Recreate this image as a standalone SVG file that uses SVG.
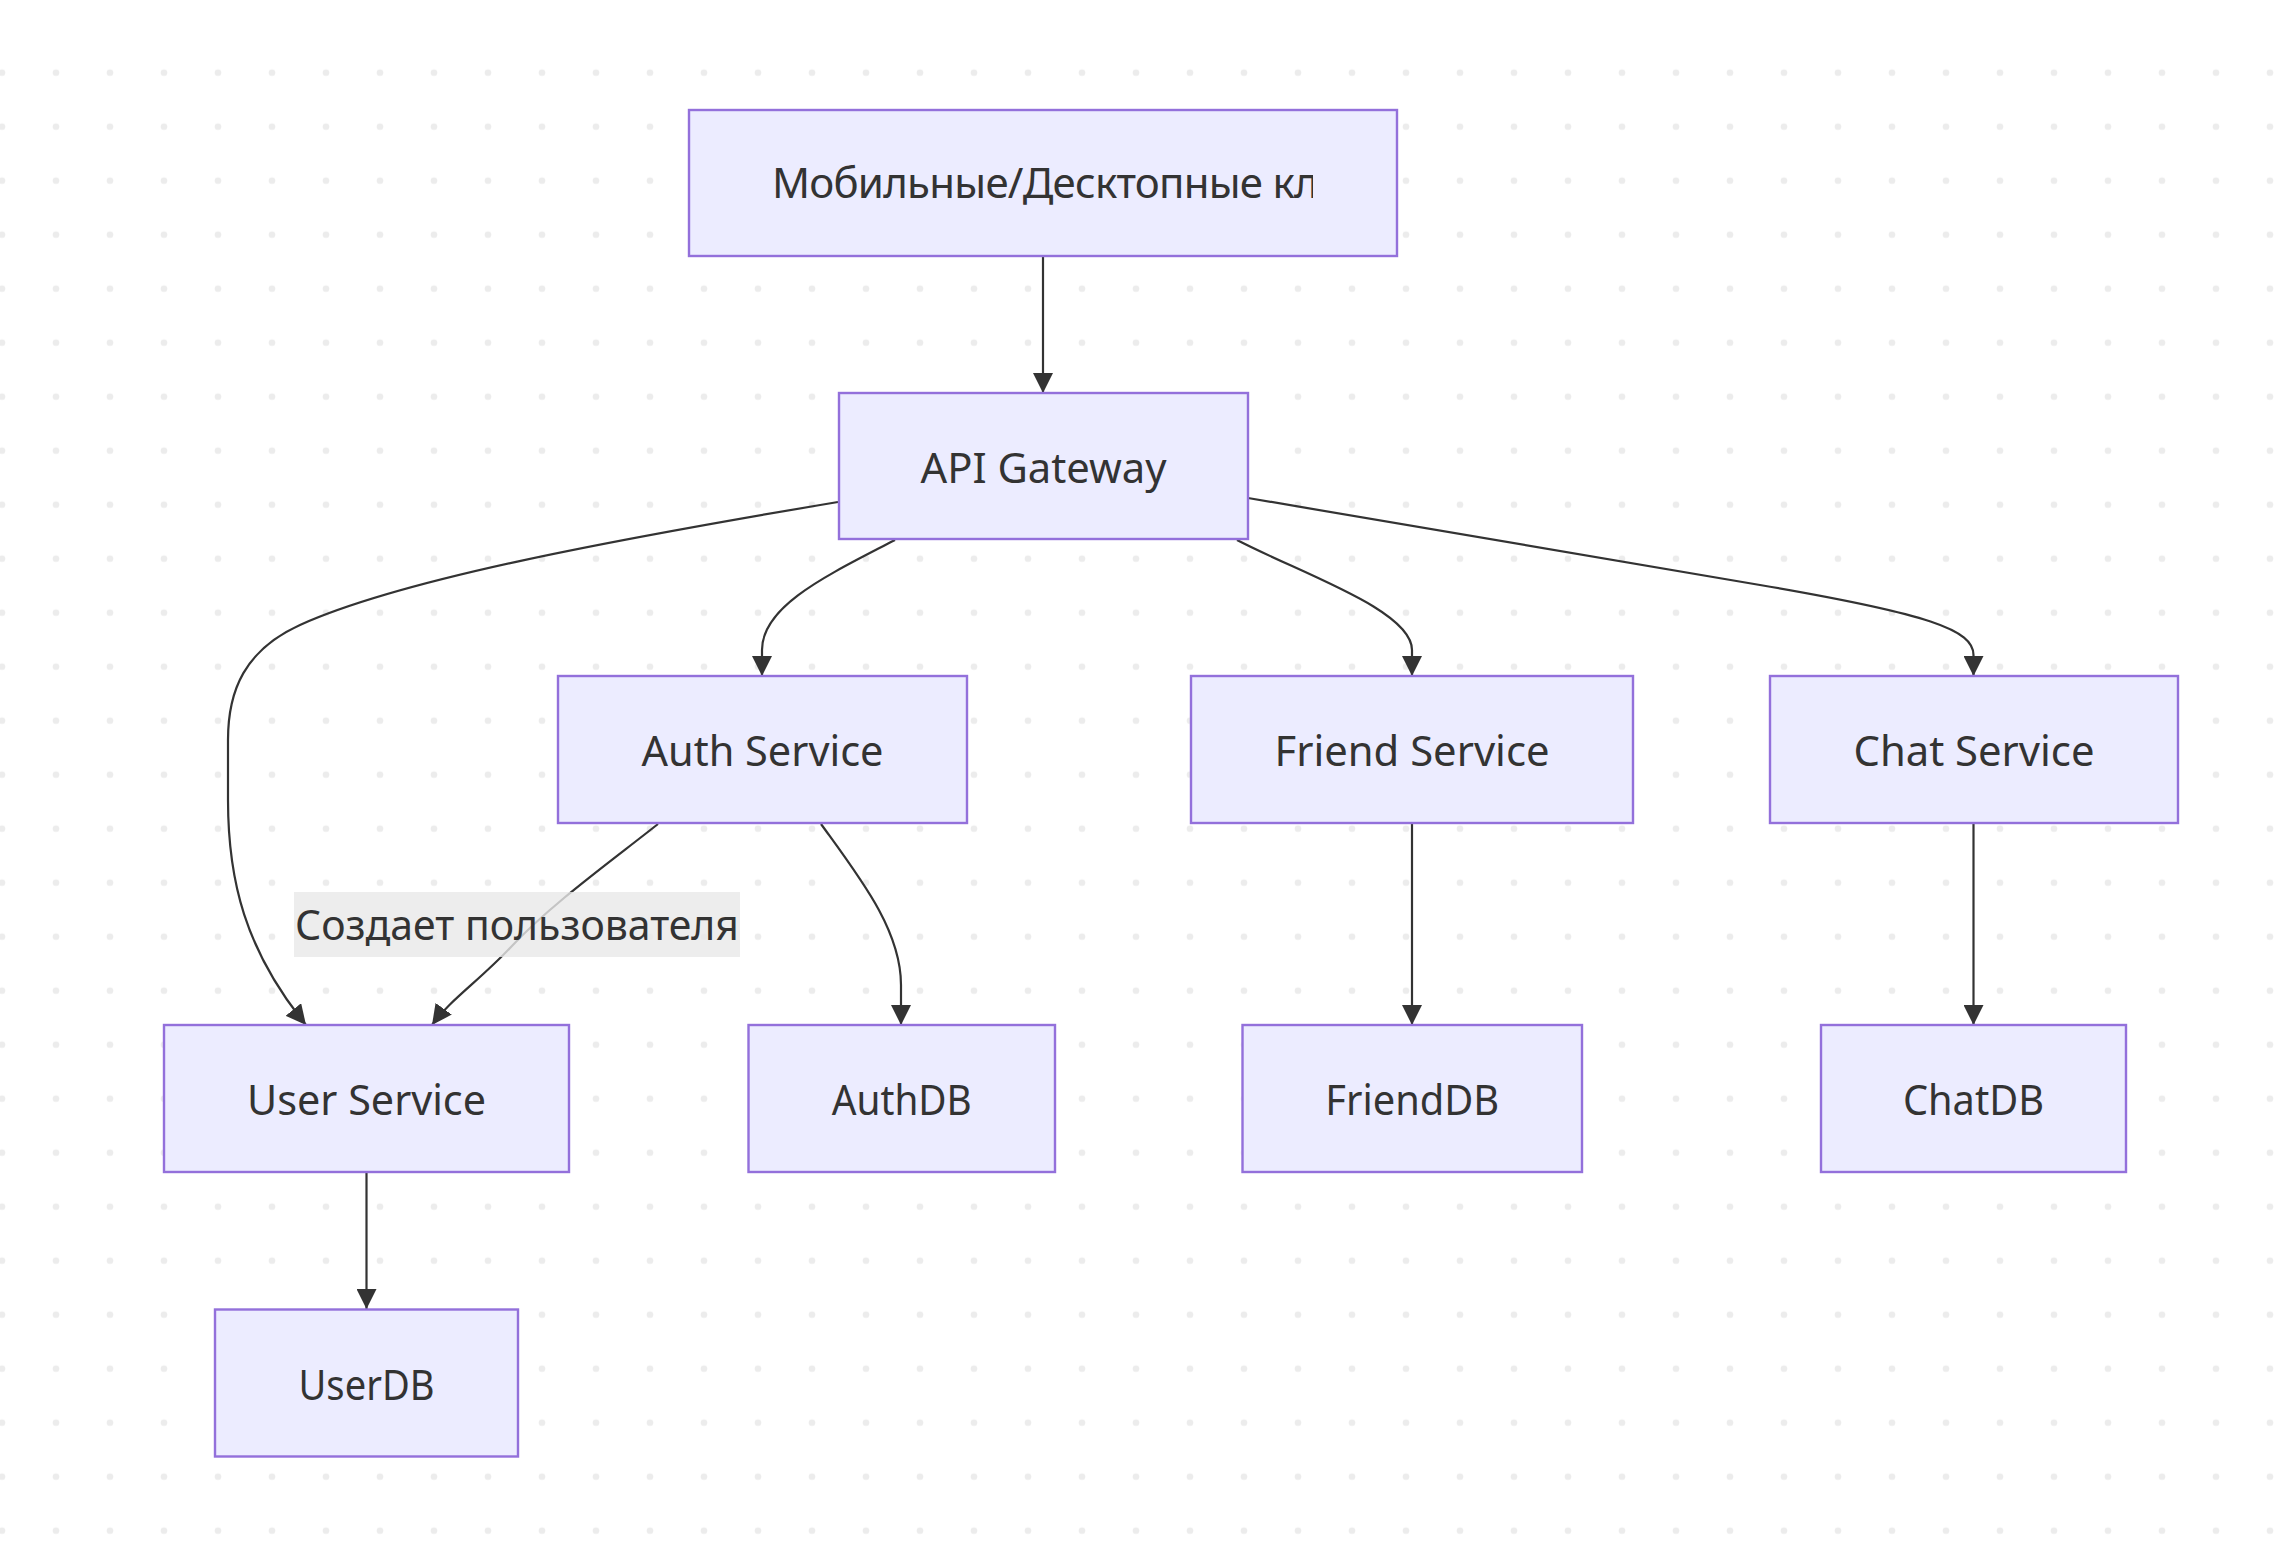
<svg xmlns="http://www.w3.org/2000/svg" width="2294" height="1566" viewBox="0 0 2294 1566">
<style>
.node rect{fill:#ECECFF;stroke:#9370DB;stroke-width:2.4}
.node text,.lbl text{font-family:"Noto Sans","DejaVu Sans",sans-serif;font-size:42px;fill:#333333;text-anchor:middle}
.edge{fill:none;stroke:#333333;stroke-width:2.2;marker-end:url(#arr)}
</style>
<defs>
<pattern id="dots" patternUnits="userSpaceOnUse" x="-25" y="45.7" width="54" height="54">
<circle cx="27" cy="27" r="3.3" fill="#ececec"/>
</pattern>
<marker id="arr" viewBox="0 0 10 10" refX="10" refY="5" markerUnits="userSpaceOnUse" markerWidth="20" markerHeight="20" orient="auto">
<path d="M0,0 L10,5 L0,10 z" fill="#333333"/>
</marker>
<clipPath id="clipTop"><rect x="689" y="110" width="624" height="146"/></clipPath>
</defs>
<rect x="0" y="0" width="2294" height="1566" fill="#ffffff"/>
<rect x="0" y="45.7" width="2294" height="1512" fill="url(#dots)"/>

<g id="connectors">
<path class="edge" d="M1043,256 L1043,393"/>
<path class="edge" d="M838,502 C600,542 400,580 300,625 C245,650 228,690 228,740 L228,800 C228,880 245,950 306,1025"/>
<path class="edge" d="M895,540 C830,574 762,605 762,650 L762,676"/>
<path class="edge" d="M1237,540 C1300,573 1412,610 1412,650 L1412,676"/>
<path class="edge" d="M1248,498 L1760,585 C1930,614 1973.5,630 1973.5,655 L1973.5,676"/>
<path class="edge" d="M658,824 C610,862 550,905 510,948 C480,980 450,1000 432,1025"/>
<path class="edge" d="M821,824 C860,878 901,930 901,985 L901,1025"/>
<path class="edge" d="M366.5,1172 L366.5,1309"/>
<path class="edge" d="M1412,823 L1412,1025"/>
<path class="edge" d="M1973.5,823 L1973.5,1025"/>
</g>

<g id="edge-label" class="lbl">
<rect x="294" y="892" width="446" height="65" fill="rgba(232,232,232,0.8)"/>
<text x="517" y="940" textLength="444" lengthAdjust="spacingAndGlyphs">Создает пользователя</text>
</g>

<g id="clients" class="node">
<rect x="689" y="110" width="708" height="146"/>
<text x="772" y="198" clip-path="url(#clipTop)" style="text-anchor:start;letter-spacing:-0.75px">Мобильные/Десктопные клиенты</text>
</g>
<g id="api" class="node">
<rect x="839" y="393" width="409" height="146"/>
<text x="1043.5" y="482.5" textLength="246" lengthAdjust="spacingAndGlyphs">API Gateway</text>
</g>
<g id="auth" class="node">
<rect x="558" y="676" width="409" height="147"/>
<text x="762.5" y="766" textLength="242" lengthAdjust="spacingAndGlyphs">Auth Service</text>
</g>
<g id="friend" class="node">
<rect x="1191" y="676" width="442" height="147"/>
<text x="1412" y="766" textLength="275" lengthAdjust="spacingAndGlyphs">Friend Service</text>
</g>
<g id="chat" class="node">
<rect x="1770" y="676" width="408" height="147"/>
<text x="1974" y="766" textLength="241" lengthAdjust="spacingAndGlyphs">Chat Service</text>
</g>
<g id="user" class="node">
<rect x="164" y="1025" width="405" height="147"/>
<text x="366.5" y="1115" textLength="239" lengthAdjust="spacingAndGlyphs">User Service</text>
</g>
<g id="authdb" class="node">
<rect x="748.5" y="1025" width="306.5" height="147"/>
<text x="901.75" y="1115" textLength="140" lengthAdjust="spacingAndGlyphs">AuthDB</text>
</g>
<g id="frienddb" class="node">
<rect x="1242.5" y="1025" width="339.5" height="147"/>
<text x="1412.25" y="1115" textLength="174" lengthAdjust="spacingAndGlyphs">FriendDB</text>
</g>
<g id="chatdb" class="node">
<rect x="1821" y="1025" width="305" height="147"/>
<text x="1973.5" y="1115" textLength="141" lengthAdjust="spacingAndGlyphs">ChatDB</text>
</g>
<g id="userdb" class="node">
<rect x="215" y="1309.5" width="303" height="147"/>
<text x="366.5" y="1399.5" textLength="136" lengthAdjust="spacingAndGlyphs">UserDB</text>
</g>
</svg>
